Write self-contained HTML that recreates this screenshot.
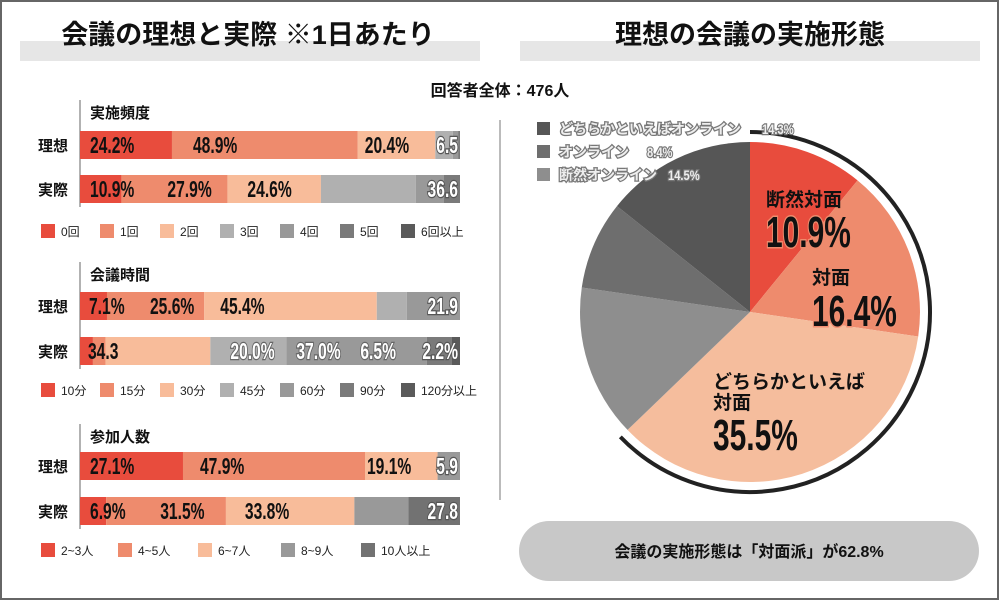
<!DOCTYPE html>
<html><head><meta charset="utf-8">
<style>
html,body{margin:0;padding:0;background:#fff;}
svg{display:block;font-family:"Liberation Sans","Noto Sans CJK JP",sans-serif;}
.num{font-family:"Liberation Sans","Noto Sans CJK JP",sans-serif;font-weight:bold;}
</style></head>
<body>
<svg id="chart" width="1000" height="601" viewBox="0 0 1000 601">
  <rect x="1" y="1" width="997" height="598" fill="#fff" stroke="#666" stroke-width="2"/>
  <rect x="20" y="41" width="460" height="20" fill="#e6e6e6"/>
  <text x="248" y="44" text-anchor="middle" font-size="27" font-weight="bold" fill="#111">会議の理想と実際 ※1日あたり</text>
  <rect x="520" y="41" width="460" height="20" fill="#e6e6e6"/>
  <text x="750" y="44" text-anchor="middle" font-size="27" font-weight="bold" fill="#111">理想の会議の実施形態</text>
  <text x="500" y="96" text-anchor="middle" font-size="16" font-weight="bold" fill="#111">回答者全体：476人</text>
  <line x1="500" y1="120" x2="500" y2="500" stroke="#bbb" stroke-width="2"/>
  <g id="bars"></g>
  <g id="pie"></g>
  <rect x="519" y="521" width="460" height="60" rx="30" fill="#c8c8c8"/>
  <text x="749" y="557" text-anchor="middle" font-size="16" font-weight="bold" fill="#111">会議の実施形態は「対面派」が62.8%</text>
</svg>
<script>
const NS="http://www.w3.org/2000/svg";
// Section 1: frequency
const freqCats=["0回","1回","2回","3回","4回","5回","6回以上"];
const freqIdeal=[24.2,48.9,20.4,4.6,1.4,0.5,0];
const freqActual=[10.9,27.9,24.6,25.0,7.3,4.3,0];
const freqIdealLabels=["24.2%","48.9%","20.4%","6.5"];
const freqActualLabels=["10.9%","27.9%","24.6%","36.6"];
// Section 2: time
const timeCats=["10分","15分","30分","45分","60分","90分","120分以上"];
const timeIdeal=[7.1,25.6,45.4,7.9,14.0,0,0];
const timeActual=[3.4,3.3,27.6,20.0,37.0,6.5,2.2];
const timeIdealLabels=["7.1%","25.6%","45.4%","21.9"];
const timeActualLabels=["34.3","20.0%","37.0%","6.5%","2.2%"];
// Section 3: participants
const partCats=["2~3人","4~5人","6~7人","8~9人","10人以上"];
const partIdeal=[27.1,47.9,19.1,5.9,0];
const partActual=[6.9,31.5,33.8,14.2,13.6];
const partIdealLabels=["27.1%","47.9%","19.1%","5.9"];
const partActualLabels=["6.9%","31.5%","33.8%","27.8"];
// Pie
const pieCats=["断然対面","対面","どちらかといえば対面","断然オンライン","オンライン","どちらかといえばオンライン"];
const pieValues=[10.9,16.4,35.5,14.5,8.4,14.3];
const faceShare=62.8;

const COL7=["#e84c3d","#ee8b6d","#f8bc9a","#b0b0b0","#999999","#7a7a7a","#5a5a5a"];
const COL5=["#e84c3d","#ee8b6d","#f8bc9a","#999999","#727272"];
const X0=80,BW=380;
const xs=v=>X0+v/100*BW;
const g=document.getElementById('bars');
function mk(tag,attrs,parent){const e=document.createElementNS(NS,tag);for(const k in attrs)e.setAttribute(k,attrs[k]);(parent||g).appendChild(e);return e;}
function condense(t,x,y,s){t.setAttribute('transform',`translate(${x},${y}) scale(${s},1) translate(${-x},${-y})`);}

function row(vals,cols,y,h,labels,labelMode,name){
  let acc=0;const segs=[];
  vals.forEach((v,i)=>{
    const r=mk('rect',{x:xs(acc),y:y,width:Math.max(0,v/100*BW),height:h,fill:cols[i]});
    
    
    segs.push([acc,v]);acc+=v;
  });
  labels.forEach((lb,i)=>{
    let x,anchor='start',fill='#111',stroke='none';
    const m=labelMode[i];
    if(m==='end'){x=X0+BW-2;anchor='end';fill='#fff';stroke='#555';}
    else {x=xs(segs[m[0]][0])+m[1]; if(m[0]>=3){fill='#fff';stroke='#666';}}
    const ty=y+h/2+8;
    const t=mk('text',{x:x,y:ty,'text-anchor':anchor,'font-size':23,fill:fill,stroke:stroke,'stroke-width':stroke==='none'?0:2.5,'paint-order':'stroke',class:'num'});
    t.textContent=lb;
    condense(t,x,ty,0.68);
    
    
  });
}
function legend(cats,cols,y,xsList){
  cats.forEach((c,i)=>{
    const r=mk('rect',{x:xsList[i],y:y-7,width:14,height:14,fill:cols[i]});
    
    
    const t=mk('text',{x:xsList[i]+20,y:y+5,'font-size':12,fill:'#222'});
    t.textContent=c;
    
    
  });
}
function section(title,ty,y1,y2,ly,cats,cols,ideal,actual,il,al,im,am,lx,name){
  const ax=mk('line',{x1:80,y1:ty-18,x2:80,y2:y2+32,stroke:'#999','stroke-width':1.5});
  
  
  const t=mk('text',{x:90,y:ty,'font-size':15,'font-weight':'bold',fill:'#111'});t.textContent=title;
  
  
  [['理想',y1],['実際',y2]].forEach(([s,y])=>{
    const l=mk('text',{x:38,y:y+20,'font-size':15,'font-weight':'bold',fill:'#111'});l.textContent=s;
    
    
  });
  row(ideal,cols,y1,28,il,im,name+'-ideal');
  row(actual,cols,y2,28,al,am,name+'-actual');
  legend(cats,cols,ly,lx);
}
const lx7=[41,100,160,220,280,340,401];
section('実施頻度',118,131,175,231,freqCats,COL7,freqIdeal,freqActual,freqIdealLabels,freqActualLabels,
  [[0,10],[1,21],[2,7],'end'],[[0,10],[1,46],[2,20],'end'],lx7,'frequency');
section('会議時間',280,292,337,390,timeCats,COL7,timeIdeal,timeActual,timeIdealLabels,timeActualLabels,
  [[0,9],[1,43],[2,16],'end'],[[0,8],[3,20],[4,10],[4,74],'end'],lx7,'duration');
section('参加人数',442,452,497,550,partCats,COL5,partIdeal,partActual,partIdealLabels,partActualLabels,
  [[0,10],[1,17],[2,2],'end'],[[0,10],[1,54],[2,19],'end'],[41,118,198,281,361],'participants');

// Pie
const pg=document.getElementById('pie');
const CX=750,CY=312,R=170;
const PCOL=["#e84c3d","#ee8b6d","#f5bd9d","#8e8e8e","#6e6e6e","#565656"];
const pt=(a,r)=>[CX+r*Math.sin(a),CY-r*Math.cos(a)];
let acc=0;
pieValues.forEach((v,i)=>{
  const a0=acc/100*2*Math.PI,a1=(acc+v)/100*2*Math.PI;acc+=v;
  const p0=pt(a0,R),p1=pt(a1,R);
  const p=mk('path',{d:`M${CX},${CY}L${p0[0]},${p0[1]}A${R},${R} 0 ${a1-a0>Math.PI?1:0} 1 ${p1[0]},${p1[1]}Z`,fill:PCOL[i]},pg);
  
  
});
{const a1=faceShare/100*2*Math.PI,R2=180,p0=pt(0,R2),p1=pt(a1,R2);
 const arc=mk('path',{d:`M${p0[0]},${p0[1]}A${R2},${R2} 0 ${a1>Math.PI?1:0} 1 ${p1[0]},${p1[1]}`,fill:'none',stroke:'#222','stroke-width':4},pg);
 
 }
function ptxt(s,x,y,size,cls,name){const t=mk('text',{x:x,y:y,'font-size':size,'font-weight':'bold',fill:'#111',class:cls||''},pg);t.textContent=s;
 
 return t;}
ptxt('断然対面',766,206,19,'','pie-label-0');
const v0=ptxt(pieValues[0]+'%',766,247,44,'num','pie-value-0');v0.setAttribute('stroke','#ee8b6d');v0.setAttribute('stroke-width','3');v0.setAttribute('paint-order','stroke');condense(v0,766,247,0.68);
ptxt('対面',812,284,19,'','pie-label-1');
const v1=ptxt(pieValues[1]+'%',812,326,44,'num','pie-value-1');v1.setAttribute('stroke','#f08f72');v1.setAttribute('stroke-width','3');v1.setAttribute('paint-order','stroke');condense(v1,812,326,0.68);
ptxt('どちらかといえば',713,388,19,'','pie-label-2a');
ptxt('対面',713,409,19,'','pie-label-2b');
const v2=ptxt(pieValues[2]+'%',713,450,44,'num','pie-value-2');condense(v2,713,450,0.68);
// pie legend
const legIdx=[5,4,3];const legY=[128,151,174];const legPctX=[762,647,668];
legIdx.forEach((k,j)=>{
  const r=mk('rect',{x:537,y:legY[j]-6,width:13,height:13,fill:PCOL[k]},pg);
  
  
  const t=mk('text',{x:559,y:legY[j]+6,'font-size':14,'font-weight':'bold',fill:'#eee',stroke:'#777','stroke-width':2.5,'paint-order':'stroke'},pg);
  t.textContent=pieCats[k];
  
  
  const tp=mk('text',{x:legPctX[j],y:legY[j]+6,'font-size':14,'font-weight':'bold',fill:'#eee',stroke:'#777','stroke-width':2.5,'paint-order':'stroke'},pg);
  tp.textContent=pieValues[k]+'%';
  condense(tp,legPctX[j],legY[j]+6,0.8);
  
  
});
</script>
</body></html>
